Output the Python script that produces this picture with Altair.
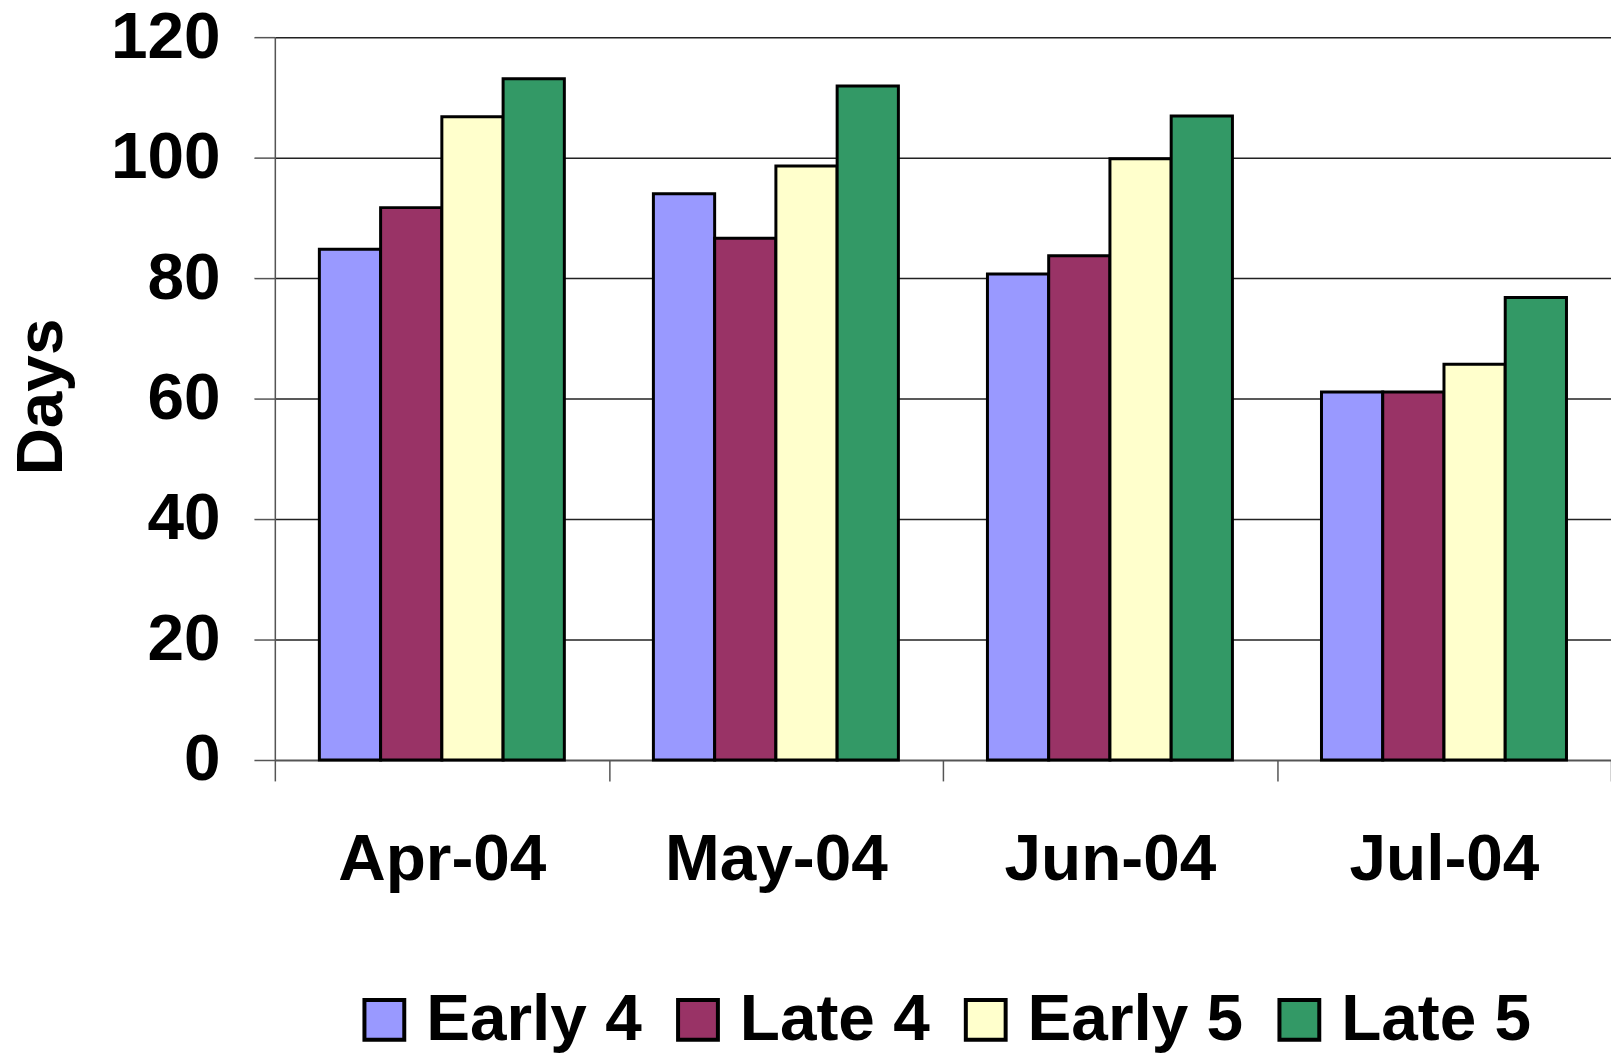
import altair as alt
import pandas as pd

months = ["Apr-04", "May-04", "Jun-04", "Jul-04"]
series = ["Early 4", "Late 4", "Early 5", "Late 5"]
early4 = [84.8, 94.0, 80.7, 61.1]
late4 = [91.7, 86.6, 83.7, 61.1]
early5 = [106.8, 98.6, 99.8, 65.7]
late5 = [113.1, 111.9, 106.9, 76.8]
colors = ["#9999FF", "#993366", "#FFFFCC", "#339966"]
y_ticks = [0, 20, 40, 60, 80, 100, 120]

rows = []
for s, vals in zip(series, [early4, late4, early5, late5]):
    for m, v in zip(months, vals):
        rows.append({"Month": m, "Series": s, "Days": v})
df = pd.DataFrame(rows)

FONT = "Liberation Sans"

chart = alt.Chart(df).mark_bar(stroke="black", strokeWidth=3).encode(
    x=alt.X("Month:N", sort=months,
            scale=alt.Scale(paddingInner=0, paddingOuter=0),
            axis=alt.Axis(title=None, labelAngle=0, labelFont=FONT, labelFontSize=66,
                          labelFontWeight="bold", labelColor="black", labelLimit=600,
                          labelBaseline="alphabetic", labelPadding=99,
                          tickBand="extent", tickSize=21, tickColor="#555555",
                          tickWidth=1.5, domainColor="#555555", domainWidth=1.5)),
    xOffset=alt.XOffset("Series:N", sort=series,
                        scale=alt.Scale(paddingInner=0, paddingOuter=0.727)),
    y=alt.Y("Days:Q", scale=alt.Scale(domain=[0, 120], nice=False),
            axis=alt.Axis(values=y_ticks, title="Days", titleFont=FONT, titleFontSize=66,
                          titleFontWeight="bold", titleColor="black", titleAngle=270,
                          titleX=-214, titleY=361, titleBaseline="alphabetic",
                          titleAlign="center",
                          labelFont=FONT, labelFontSize=66, labelFontWeight="bold",
                          labelColor="black", labelPadding=34,
                          tickSize=21, tickColor="#555555", tickWidth=1.5,
                          domainColor="#555555", domainWidth=1.5,
                          grid=True, gridColor="#222222", gridWidth=1.5)),
    color=alt.Color("Series:N", sort=series,
                    scale=alt.Scale(domain=series, range=colors),
                    legend=alt.Legend(title=None, orient="none", direction="horizontal",
                                      legendX=77, legendY=954,
                                      symbolType="square", symbolSize=1600,
                                      symbolStrokeColor="black", symbolStrokeWidth=4,
                                      symbolOpacity=1,
                                      labelFont=FONT, labelFontSize=66,
                                      labelFontWeight="bold", labelColor="black",
                                      labelOffset=9, labelLimit=500,
                                      columnPadding=23)),
).properties(
    width=1342, height=726,
    autosize=alt.AutoSizeParams(type="none"),
    padding={"left": 268, "top": 27, "right": 0, "bottom": 295},
).configure_view(
    fill="#C0C0C0", stroke="#808080", strokeWidth=2
).configure(background="white")

chart.save("out.html", embed_options={"renderer": "svg", "actions": False})
